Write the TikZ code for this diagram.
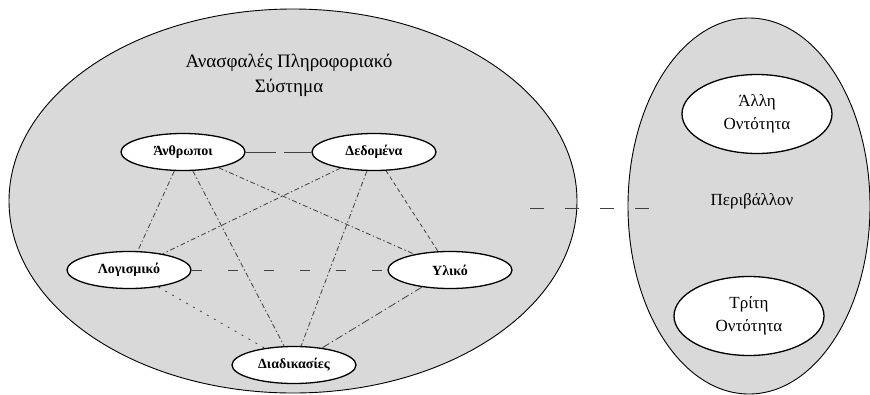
\documentclass[tikz,border=0pt]{standalone}
\usepackage{fontspec}
\setmainfont{Liberation Serif}
\usetikzlibrary{shapes.geometric}
\begin{document}
\begin{tikzpicture}[x=1pt,y=-1pt,
  bigell/.style={ellipse, draw=black, line width=0.9pt, fill=black!15, inner sep=0pt},
  inell/.style={ellipse, draw=black, line width=1.3pt, fill=white, inner sep=0pt,
     minimum width=124pt, minimum height=37pt, font=\fontsize{14}{16}\selectfont\bfseries},
  envell/.style={ellipse, draw=black, line width=1.3pt, fill=white, inner sep=0pt,
     minimum width=150pt, minimum height=79pt, align=center, font=\fontsize{17}{23}\selectfont},
  lnk/.style={draw=black!75, line width=0.8pt},
  dashdot/.style={lnk, dash pattern=on 5pt off 2.5pt on 1.5pt off 2.5pt},
]
\useasboundingbox (0,0) rectangle (870,394);
\fill[white] (0,0) rectangle (870,394);
% outer ellipses
\node[bigell, minimum width=568pt, minimum height=384pt] (sys) at (293,201) {};
\node[bigell, minimum width=242pt, minimum height=376pt] (env) at (749,206) {};
% titles
\node[align=center, font=\fontsize{19}{25}\selectfont] (title) at (289,75) {Ανασφαλές Πληροφοριακό\\Σύστημα};
\node[font=\fontsize{17}{20}\selectfont] (per) at (752,201) {Περιβάλλον};
% inner nodes
\node[inell] (anth) at (183,152) {Άνθρωποι};
\node[inell] (ded) at (374,152) {Δεδομένα};
\node[inell] (log) at (129,270) {Λογισμικό};
\node[inell] (yli) at (450,270) {Υλικό};
\node[inell] (diad) at (294,365) {Διαδικασίες};
\node[envell] (alli) at (757,114) {Άλλη\\Οντότητα};
\node[envell] (triti) at (749,316) {Τρίτη\\Οντότητα};
% links
\draw[lnk, dash pattern=on 30pt off 8pt] (anth) -- (ded);
\draw[dashdot] (anth) -- (log);
\draw[dashdot] (anth) -- (diad);
\draw[dashdot] (anth) -- (yli);
\draw[dashdot] (ded) -- (log);
\draw[dashdot] (ded) -- (diad);
\draw[lnk, dash pattern=on 4pt off 3pt] (ded) -- (yli);
\draw[lnk, dash pattern=on 10pt off 26pt] (log) -- (yli);
\draw[lnk, dash pattern=on 2pt off 6pt] (log) -- (diad);
\draw[lnk, dash pattern=on 8pt off 3pt on 1.5pt off 3pt] (yli) -- (diad);
\coordinate (e1) at (530,208);
\coordinate (e2) at (662,208);
\draw[lnk, dash pattern=on 14pt off 21pt] (e1) -- (e2);
\end{tikzpicture}
\end{document}
